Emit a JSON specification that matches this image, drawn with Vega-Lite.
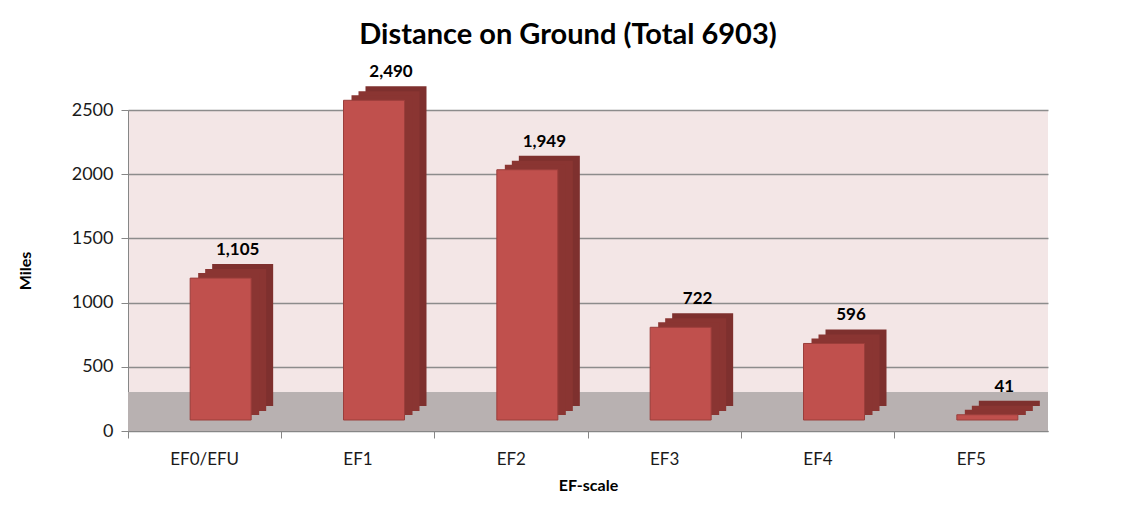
{
  "$schema": "https://vega.github.io/schema/vega-lite/v6.json",
  "width": 920,
  "height": 321,
  "autosize": "none",
  "padding": {"left": 128, "top": 110, "right": 95, "bottom": 86},
  "background": "white",
  "title": {
    "text": "Distance on Ground (Total 6903)",
    "font": "Lato",
    "fontSize": 29,
    "fontWeight": "bold",
    "color": "black",
    "anchor": "middle",
    "dx": -20,
    "offset": 13
  },
  "config": {
    "view": {"fill": "#f3e6e6", "stroke": null},
    "axis": {"labelFont": "Lato", "titleFont": "Lato", "labelColor": "#1a1a1a", "titleColor": "black", "domainColor": "#868686", "tickColor": "#868686"}
  },
  "data": {
    "values": [
      {"scale": "EF0/EFU", "miles": 1105},
      {"scale": "EF1", "miles": 2490},
      {"scale": "EF2", "miles": 1949},
      {"scale": "EF3", "miles": 722},
      {"scale": "EF4", "miles": 596},
      {"scale": "EF5", "miles": 41}
    ]
  },
  "encoding": {
    "x": {
      "field": "scale",
      "type": "nominal",
      "sort": null,
      "scale": {"paddingInner": 0, "paddingOuter": 0},
      "axis": {
        "title": "EF-scale",
        "titleFontSize": 16,
        "titleFontWeight": "bold",
        "titlePadding": 10,
        "labelFontSize": 17,
        "labelAngle": 0,
        "labelPadding": 13,
        "bandPosition": 0,
        "tickSize": 7,
        "grid": false
      }
    },
    "y": {
      "field": "miles",
      "type": "quantitative",
      "scale": {"domain": [0, 2500], "nice": false},
      "axis": {
        "title": "Miles",
        "titleFontSize": 16,
        "titleFontWeight": "bold",
        "titlePadding": 38,
        "labelFontSize": 18,
        "values": [0, 500, 1000, 1500, 2000, 2500],
        "format": "d",
        "tickSize": 7,
        "labelPadding": 8,
        "gridColor": "#8c8c8c",
        "gridWidth": 1.5
      }
    }
  },
  "layer": [
    {
      "mark": {"type": "rect", "color": "#b8b1b1"},
      "encoding": {
        "x": null,
        "y": {"datum": 0, "type": "quantitative"},
        "y2": {"datum": 300}
      }
    },
    {
      "mark": {"type": "bar", "width": 61, "xOffset": 38, "yOffset": -25, "color": "#7e302e"}
    },
    {
      "mark": {"type": "bar", "width": 61, "xOffset": 31, "yOffset": -20, "color": "#8a3532"}
    },
    {
      "mark": {"type": "bar", "width": 61, "xOffset": 24, "yOffset": -16, "color": "#8a3532"}
    },
    {
      "mark": {"type": "bar", "width": 61, "xOffset": 16, "yOffset": -11, "color": "#c0504d", "stroke": "#9b3e3b", "strokeWidth": 1}
    },
    {
      "mark": {"type": "text", "font": "Lato", "fontSize": 17, "fontWeight": "bold", "color": "black", "baseline": "bottom", "xOffset": 33, "yOffset": -30},
      "encoding": {
        "text": {"field": "miles", "type": "quantitative", "format": ","}
      }
    }
  ]
}
